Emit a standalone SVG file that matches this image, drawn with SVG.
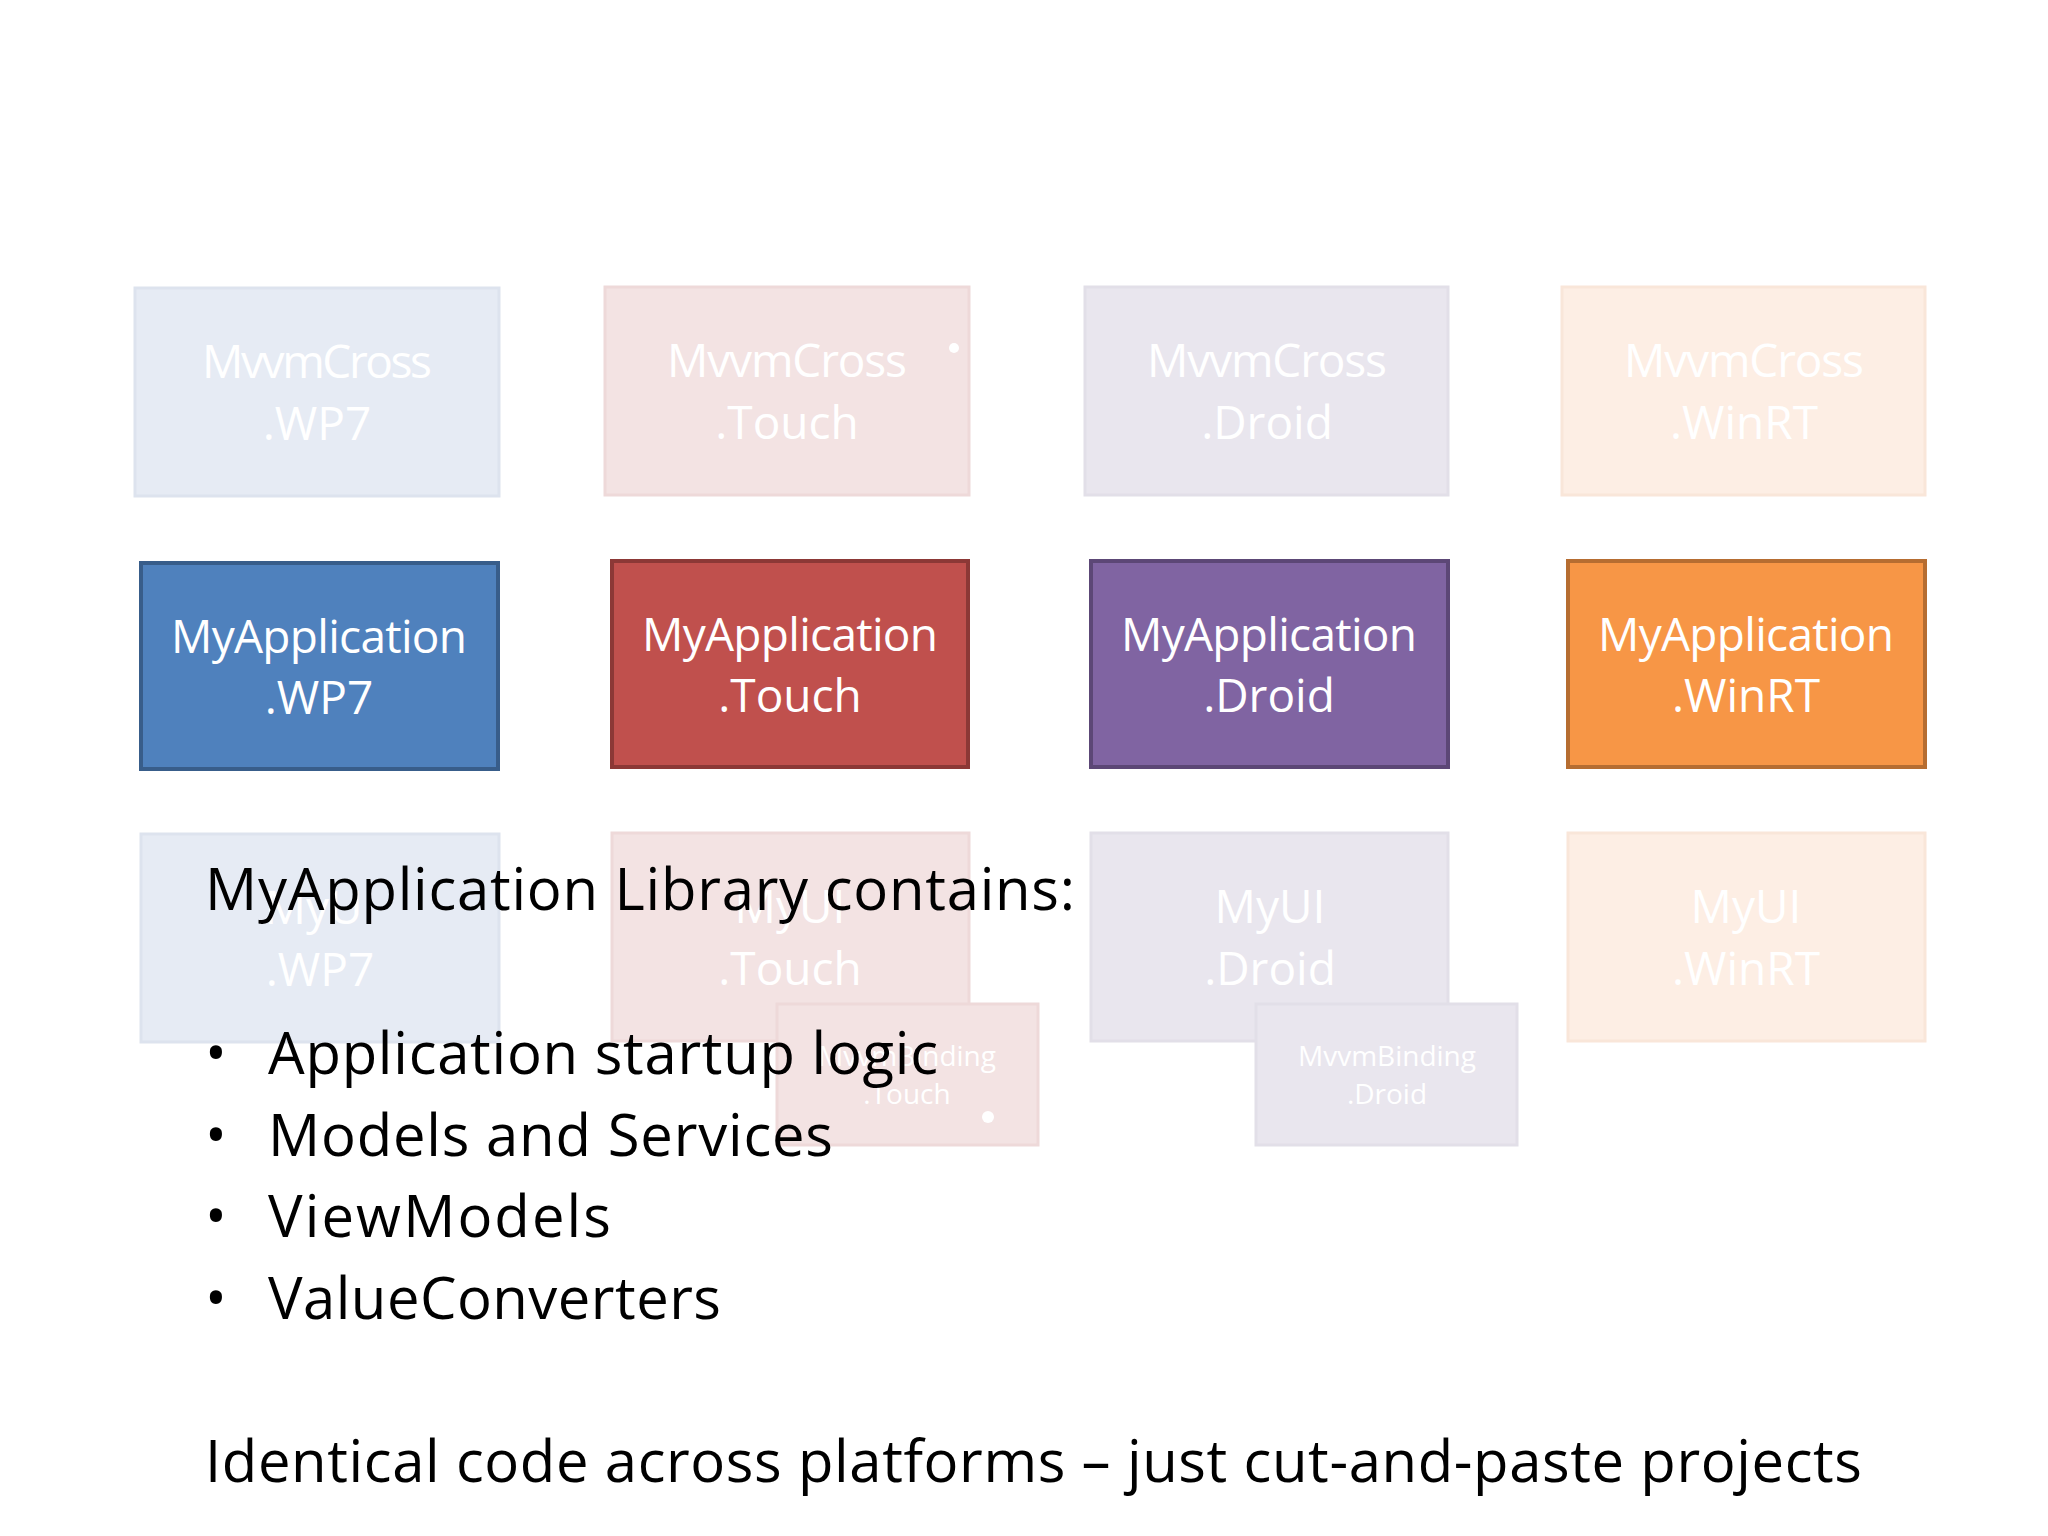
<svg xmlns="http://www.w3.org/2000/svg" width="2048" height="1536" viewBox="0 0 2048 1536">
<style>
.f{stroke-width:3}
.bt{font-family:"Open Sans","Liberation Sans",sans-serif;font-size:46px;text-anchor:middle;fill:#fff}
.st{font-family:"Open Sans","Liberation Sans",sans-serif;font-size:28px;text-anchor:middle;fill:#fff}
.mt{font-family:"Open Sans","Liberation Sans",sans-serif;font-size:58px;fill:#000}
</style>
<rect width="2048" height="1536" fill="#fff"/>
<g id="fw-wp7"><rect x="135" y="288" width="364" height="208" fill="#e6ebf4" stroke="#dde3ee" class="f"/><text class="bt" x="317" y="378" textLength="230">MvvmCross</text><text class="bt" x="317" y="440">.WP7</text></g>
<g id="fw-touch"><rect x="605" y="287" width="364" height="208" fill="#f3e3e3" stroke="#eed9d9" class="f"/><text class="bt" x="787" y="377" textLength="240">MvvmCross</text><text class="bt" x="787" y="439">.Touch</text><circle cx="954" cy="348" r="5" fill="#fff"/></g>
<g id="fw-droid"><rect x="1085" y="287" width="363" height="208" fill="#e9e6ee" stroke="#e2dfe8" class="f"/><text class="bt" x="1267" y="377" textLength="240">MvvmCross</text><text class="bt" x="1267" y="439">.Droid</text></g>
<g id="fw-winrt"><rect x="1562" y="287" width="363" height="208" fill="#fdeee4" stroke="#f9e6d9" class="f"/><text class="bt" x="1744" y="377" textLength="240">MvvmCross</text><text class="bt" x="1744" y="439">.WinRT</text></g>

<g id="app-wp7"><rect x="141" y="563" width="357" height="206" fill="#4f81bd" stroke="#385d8a" stroke-width="4"/><text class="bt" x="319" y="653" textLength="296">MyApplication</text><text class="bt" x="319" y="714">.WP7</text></g>
<g id="app-touch"><rect x="612" y="561" width="356" height="206" fill="#c0504d" stroke="#8c3836" stroke-width="4"/><text class="bt" x="790" y="651" textLength="296">MyApplication</text><text class="bt" x="790" y="712">.Touch</text></g>
<g id="app-droid"><rect x="1091" y="561" width="357" height="206" fill="#8064a2" stroke="#5c4776" stroke-width="4"/><text class="bt" x="1269" y="651" textLength="296">MyApplication</text><text class="bt" x="1269" y="712">.Droid</text></g>
<g id="app-winrt"><rect x="1568" y="561" width="357" height="206" fill="#f79646" stroke="#b66d31" stroke-width="4"/><text class="bt" x="1746" y="651" textLength="296">MyApplication</text><text class="bt" x="1746" y="712">.WinRT</text></g>

<g id="ui-wp7"><rect x="141" y="834" width="358" height="208" fill="#e6ebf4" stroke="#dde3ee" class="f"/><text class="bt" x="320" y="924">MyUI</text><text class="bt" x="320" y="986">.WP7</text></g>
<g id="ui-touch"><rect x="612" y="833" width="357" height="208" fill="#f3e3e3" stroke="#eed9d9" class="f"/><text class="bt" x="790" y="923">MyUI</text><text class="bt" x="790" y="985">.Touch</text></g>
<g id="ui-droid"><rect x="1091" y="833" width="357" height="208" fill="#e9e6ee" stroke="#e2dfe8" class="f"/><text class="bt" x="1270" y="923">MyUI</text><text class="bt" x="1270" y="985">.Droid</text></g>
<g id="ui-winrt"><rect x="1568" y="833" width="357" height="208" fill="#fdeee4" stroke="#f9e6d9" class="f"/><text class="bt" x="1746" y="923">MyUI</text><text class="bt" x="1746" y="985">.WinRT</text></g>
<g id="bind-touch"><rect x="777" y="1004" width="261" height="141" fill="#f3e3e3" stroke="#eed9d9" class="f"/><text class="st" x="907" y="1066">MvvmBinding</text><text class="st" x="907" y="1104">.Touch</text><circle cx="988" cy="1117" r="6" fill="#fff"/></g>
<g id="bind-droid"><rect x="1256" y="1004" width="261" height="141" fill="#e9e6ee" stroke="#e2dfe8" class="f"/><text class="st" x="1387" y="1066">MvvmBinding</text><text class="st" x="1387" y="1104">.Droid</text></g>
<g id="connectors"/>
<g id="text">
<text class="mt" x="205" y="910" textLength="870">MyApplication Library contains:</text>
<text class="mt" x="205" y="1074">•</text><text class="mt" x="268" y="1074" textLength="670">Application startup logic</text>
<text class="mt" x="205" y="1156">•</text><text class="mt" x="268" y="1156" textLength="565">Models and Services</text>
<text class="mt" x="205" y="1237">•</text><text class="mt" x="268" y="1237" textLength="343">ViewModels</text>
<text class="mt" x="205" y="1319">•</text><text class="mt" x="268" y="1319" textLength="453">ValueConverters</text>
<text class="mt" x="205" y="1482" textLength="1657">Identical code across platforms – just cut-and-paste projects</text>
</g>
</svg>
